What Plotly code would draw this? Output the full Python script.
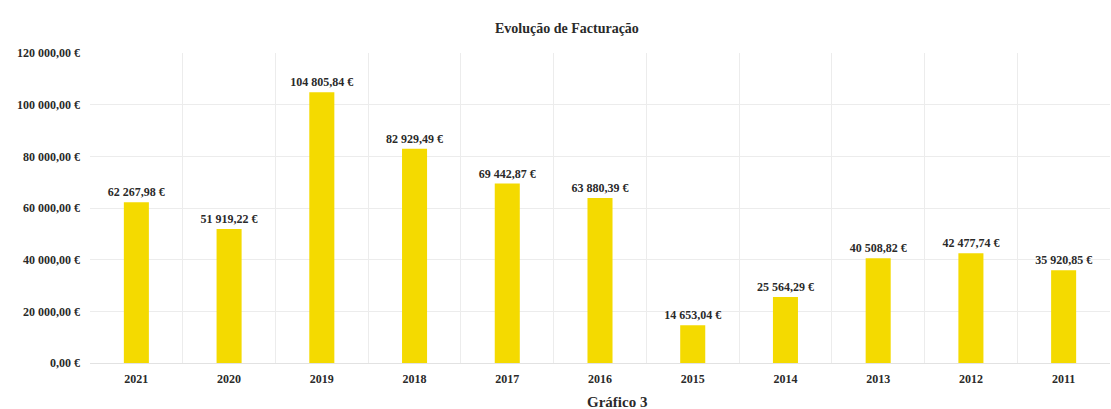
import plotly.graph_objects as go

years = ["2021", "2020", "2019", "2018", "2017", "2016", "2015", "2014", "2013", "2012", "2011"]
revenue = [62267.98, 51919.22, 104805.84, 82929.49, 69442.87, 63880.39,
           14653.04, 25564.29, 40508.82, 42477.74, 35920.85]
y_ticks = [0, 20000, 40000, 60000, 80000, 100000, 120000]


def euro(v):
    # Portuguese style: space as thousands separator, comma for decimals
    s = f"{v:,.2f}".replace(",", " ").replace(".", ",")
    return f"{s} €"


y_tick_text = [euro(v) for v in y_ticks]

FONT = "Liberation Serif"
DARK = "#2a2a2a"

fig = go.Figure(
    go.Bar(
        x=years,
        y=revenue,
        width=0.27,
        marker=dict(color="#F4DA00", line=dict(width=0)),
        texttemplate="%{y:,.2f} €",
        textposition="outside",
        constraintext="none",
        cliponaxis=False,
        textfont=dict(family=FONT, size=12, color=DARK, weight="bold"),
    )
)

fig.update_layout(
    width=1111,
    height=409,
    margin=dict(l=90, r=1, t=53, b=46),
    paper_bgcolor="white",
    plot_bgcolor="white",
    separators=", ",
    showlegend=False,
    font=dict(family=FONT, color=DARK),
    annotations=[
        dict(text="Evolução de Facturação", x=(567 - 90) / 1020, y=1 + (53 - 28) / 310,
             xref="paper", yref="paper", yanchor="middle", showarrow=False,
             font=dict(family=FONT, size=14, color=DARK, weight="bold")),
        dict(text="Gráfico 3", x=(617 - 90) / 1020, y=-(402 - 363) / 310,
             xref="paper", yref="paper", yanchor="middle", showarrow=False,
             font=dict(family=FONT, size=15, color=DARK, weight="bold")),
    ],
)

fig.update_xaxes(
    type="category",
    tickson="boundaries",
    showgrid=True,
    gridcolor="#ececec",
    gridwidth=1,
    showline=True,
    linecolor="#e2e2e2",
    ticks="",
    tickfont=dict(family=FONT, size=12, color=DARK, weight="bold"),
    ticklabelstandoff=5,
)
fig.update_yaxes(
    range=[0, 120000],
    tickmode="array",
    tickvals=y_ticks,
    ticktext=y_tick_text,
    showgrid=True,
    gridcolor="#ececec",
    gridwidth=1,
    zeroline=False,
    showline=False,
    ticks="",
    tickfont=dict(family=FONT, size=12, color=DARK, weight="bold"),
    ticklabelstandoff=9,
)

fig.write_html("out.html")
